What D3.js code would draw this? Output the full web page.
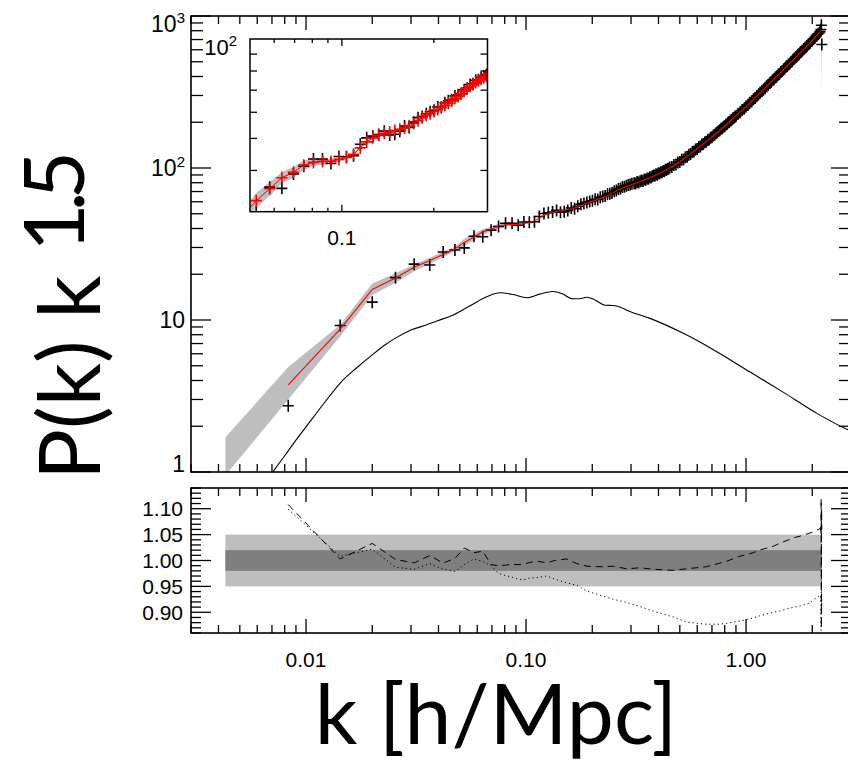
<!DOCTYPE html>
<html><head><meta charset="utf-8">
<script src="https://cdn.jsdelivr.net/npm/d3@7"></script>
<style>
html,body{margin:0;padding:0;background:#fff;overflow:hidden}
svg{display:block}
</style></head><body>
<svg id="chart" width="848" height="765"></svg>
<script>
// Binned measurements: k [h/Mpc] and P(k) k^1.5
const binK = [
  0.0083, 0.0143, 0.0200, 0.0255, 0.0310, 0.0365, 0.0420, 0.0475, 0.0524, 0.0580,
  0.0636, 0.0694, 0.0750, 0.0807, 0.0864, 0.0921, 0.0978, 0.1035, 0.1092, 0.1149,
  0.1206, 0.1263, 0.1320, 0.1377, 0.1434, 0.1491, 0.1548, 0.1605, 0.1662, 0.1719,
  0.1776, 0.1833, 0.1890, 0.1947, 0.2004, 0.2061, 0.2118, 0.2175, 0.2232, 0.2289,
  0.2346, 0.2403, 0.2460, 0.2517, 0.2574, 0.2631, 0.2688, 0.2745, 0.2802, 0.2859,
  0.2916, 0.2973, 0.3030,
  0.310, 0.315, 0.320, 0.325, 0.330, 0.335, 0.340, 0.345, 0.350, 0.355,
  0.360, 0.365, 0.370, 0.375, 0.380, 0.385, 0.390, 0.395, 0.400, 0.405,
  0.410, 0.415, 0.420, 0.425, 0.430, 0.435, 0.440, 0.445, 0.450,
  0.46, 0.47, 0.48, 0.49, 0.50, 0.51, 0.52, 0.53, 0.54, 0.55,
  0.56, 0.57, 0.58, 0.59, 0.60, 0.61, 0.62, 0.63, 0.64, 0.65,
  0.66, 0.67, 0.68, 0.69, 0.70, 0.71, 0.72, 0.73, 0.74, 0.75,
  0.76, 0.77, 0.78, 0.79, 0.80, 0.81, 0.82, 0.83, 0.84, 0.85,
  0.86, 0.87, 0.88, 0.89, 0.90,
  0.92, 0.94, 0.96, 0.98, 1.00, 1.02, 1.04, 1.06, 1.08, 1.10,
  1.12, 1.14, 1.16, 1.18, 1.20, 1.22, 1.24, 1.26, 1.28, 1.30,
  1.32, 1.34, 1.36, 1.38, 1.40, 1.42, 1.44, 1.46, 1.48, 1.50,
  1.52, 1.54, 1.56, 1.58, 1.60, 1.62, 1.64, 1.66, 1.68, 1.70,
  1.72, 1.74, 1.76, 1.78, 1.80,
  1.83, 1.86, 1.89, 1.92, 1.95, 1.98, 2.00, 2.03, 2.06, 2.09,
  2.12, 2.15, 2.17, 2.19, 2.20, 2.21
];
const pkMeasured = [
  2.73, 9.2, 13.1, 19.0, 23.3, 23.0, 28.0, 28.9, 29.8, 35.6,
  35.3, 39.0, 41.2, 43.3, 43.3, 42.0, 44.1, 44.0, 44.3, 48.0,
  50.2, 50.8, 51.4, 52.6, 51.2, 51.5, 52.6, 54.5, 54.0, 56.0,
  57.8, 58.3, 59.4, 60.2, 60.8, 62.3, 62.0, 64.1, 65.0, 65.4,
  67.2, 67.8, 68.4, 70.2, 71.0, 72.8, 73.2, 75.0, 75.3, 76.4,
  77.3, 78.0, 78.9,
  79.3, 79.0, 80.9, 80.4, 81.9, 82.6, 82.2, 84.1, 83.6, 85.4,
  85.1, 87.0, 86.5, 88.3, 89.2, 88.9, 90.9, 90.3, 92.2, 91.9,
  93.9, 93.6, 95.6, 95.2, 97.3, 97.0, 99.0, 98.7, 100.8,
  101.5, 104.8, 105.4, 108.8, 109.4, 113.1, 113.9, 117.6, 118.5, 122.3,
  123.4, 127.3, 128.4, 132.3, 133.4, 137.3, 138.5, 142.5, 143.6, 147.6,
  148.8, 152.8, 154.1, 158.1, 159.4, 163.6, 165.3, 169.6, 171.0, 175.4,
  176.9, 181.2, 182.8, 187.1, 188.4, 192.8, 194.5, 198.9, 200.6, 205.1,
  206.8, 211.3, 213.0, 217.6, 219.4,
  227.3, 232.4, 240.4, 245.6, 253.9, 259.5, 268.2, 274.0, 283.0, 288.8,
  298.1, 304.0, 313.3, 319.3, 329.0, 335.1, 345.0, 351.1, 361.3, 367.5,
  377.7, 384.0, 394.3, 400.6, 411.2, 417.5, 428.3, 434.5, 445.4, 451.7,
  462.9, 469.2, 480.5, 486.8, 498.5, 504.8, 516.7, 523.1, 535.2, 541.5,
  553.9, 560.2, 572.7, 579.1, 591.8,
  603.2, 621.3, 632.8, 651.3, 662.9, 681.7, 691.5, 705.0, 725.4, 738.6,
  759.5, 772.8, 789.0, 815.0, 870.0, 650.0
];

// Best-fit model (red)
const modelK = [
  0.0083, 0.0143, 0.0200, 0.0255, 0.0310, 0.0365, 0.0420, 0.0475, 0.0524, 0.0580,
  0.0636, 0.0694, 0.0750, 0.0807, 0.0864, 0.0921, 0.0978, 0.1035, 0.1092, 0.1149,
  0.1206, 0.1263, 0.1320, 0.1377, 0.1434, 0.1491, 0.1548, 0.1605, 0.1662, 0.1719,
  0.1776, 0.1833, 0.1890, 0.1947, 0.2004, 0.2061, 0.2118, 0.2175, 0.2232, 0.2289,
  0.2346, 0.2403, 0.2460, 0.2517, 0.2574, 0.2631, 0.2688, 0.2745, 0.2802, 0.2859,
  0.2916, 0.2973, 0.3030,
  0.35, 0.40, 0.45, 0.50, 0.55, 0.60, 0.65, 0.70, 0.80, 0.90,
  1.00, 1.20, 1.40, 1.60, 1.80, 2.00, 2.21
];
const pkModel = [
  3.74, 8.7, 15.9, 18.9, 22.2, 24.6, 27.0, 29.3, 32.4, 35.2,
  38.0, 39.5, 41.5, 42.3, 42.6, 42.6, 43.2, 43.8, 44.8, 46.8,
  48.8, 50.2, 51.1, 51.8, 52.3, 52.8, 53.3, 53.8, 54.6, 55.5,
  56.6, 57.8, 58.7, 59.4, 60.3, 61.2, 62.1, 63.0, 63.9, 64.9,
  66.0, 67.0, 68.1, 69.5, 70.7, 71.8, 72.8, 73.8, 74.7, 75.5,
  76.3, 77.0, 77.8,
  84.0, 91.5, 100.0, 110.0, 121.5, 134.0, 146.8, 160.0, 189.0, 220.0,
  253.0, 328.0, 410.0, 497.0, 590.0, 690.0, 810.0
];

// Model uncertainty envelope
const bandK = [0.0043, 0.0083, 0.0143, 0.0200, 0.0255, 0.0310, 0.0365, 0.0420, 0.0475, 0.0524,
  0.0580, 0.0636, 0.0694, 0.0750, 0.0807, 0.0864, 0.0921, 0.0978, 0.1035, 0.1092,
  0.12, 0.15, 0.2, 0.3, 0.5, 1.0, 2.0, 2.19, 2.20, 2.205, 2.21];
const bandLo = [0.95, 3.0, 7.8, 14.6, 17.6, 20.9, 23.4, 26.0, 28.3, 30.8,
  33.5, 36.5, 38.0, 40.2, 41.2, 41.7, 41.9, 42.6, 43.3, 44.4,
  48.5, 52.6, 59.9, 77.3, 109.5, 252, 688, 790, 310, 795, 805];
const bandHi = [1.69, 4.9, 9.3, 17.4, 20.3, 23.2, 25.7, 28.1, 30.3, 34.2,
  36.9, 39.6, 41.0, 42.9, 43.4, 43.5, 43.3, 43.8, 44.3, 45.2,
  49.1, 53.2, 60.6, 78.3, 110.5, 254, 692, 796, 850, 805, 815];

// Linear-theory spectrum (thin black)
const linK = [0.0068, 0.0080, 0.0090, 0.0100, 0.0120, 0.0143, 0.0170, 0.0200, 0.0230, 0.0255,
  0.0300, 0.0354, 0.0393, 0.0468, 0.0557, 0.0662, 0.0762, 0.0874, 0.1008, 0.1155,
  0.1320, 0.1460, 0.1620, 0.1750, 0.1890, 0.2050, 0.2290, 0.2490, 0.2700, 0.2870,
  0.3660, 0.5190, 0.7360, 1.0400, 1.4800, 2.1000, 2.8700, 3.2000];
const pkLinear = [0.93, 1.28, 1.62, 1.98, 2.8, 3.85, 4.85, 5.9, 6.9, 7.6,
  8.6, 9.3, 9.85, 10.8, 12.4, 14.2, 15.1, 14.7, 14.0, 14.8,
  15.4, 14.9, 13.8, 13.8, 14.1, 13.6, 12.5, 12.45, 12.1, 11.6,
  10.25, 8.17, 6.19, 4.56, 3.34, 2.43, 1.91, 1.78];

// Ratio panel
const ratioK = [0.0083, 0.0143, 0.0200, 0.0255, 0.0310, 0.0365, 0.0420, 0.0475, 0.0524, 0.0580,
  0.0636, 0.0694, 0.0750, 0.0807, 0.0864, 0.0921, 0.0978, 0.1035, 0.112, 0.124,
  0.135, 0.153, 0.170, 0.189, 0.217, 0.250, 0.287, 0.330, 0.380, 0.467,
  0.536, 0.660, 0.760, 0.820, 0.935, 1.08, 1.15, 1.33, 1.42, 1.65,
  1.76, 1.95, 2.00, 2.14, 2.18, 2.19, 2.195, 2.20, 2.205, 2.21];
const ratioDashed = [1.108, 1.003, 1.033, 1.002, 0.9955, 1.0096, 0.995, 1.004, 1.024, 1.015,
  1.018, 0.992, 0.990, 0.991, 0.993, 0.992, 0.993, 0.996, 0.999, 0.9955,
  1.000, 1.003, 0.994, 0.989, 0.988, 0.989, 0.984, 0.986, 0.983, 0.981,
  0.984, 0.988, 0.995, 0.999, 1.008, 1.015, 1.020, 1.0275, 1.033, 1.044,
  1.047, 1.053, 1.055, 1.060, 1.063, 1.050, 1.12, 0.87, 1.10, 1.06];
const ratioDotted = [1.099, 1.008, 1.022, 0.987, 0.983, 0.994, 0.983, 0.979, 0.992, 1.003,
  0.998, 0.990, 0.975, 0.971, 0.968, 0.964, 0.963, 0.966, 0.967, 0.970,
  0.964, 0.957, 0.952, 0.941, 0.933, 0.925, 0.919, 0.911, 0.902, 0.891,
  0.881, 0.877, 0.877, 0.879, 0.883, 0.889, 0.893, 0.900, 0.9025, 0.910,
  0.912, 0.918, 0.922, 0.931, 0.933, 0.925, 0.865, 1.09, 0.90, 0.93];
const ratioBandK = [0.0043, 2.2];
const outerBand = [0.95, 1.05];
const innerBand = [0.98, 1.02];

// Tick values and labels
const kMajor = [0.01, 0.1, 1];
const kMajorLabels = ["0.01", "0.10", "1.00"];
const pMajor = [1, 10, 100, 1000];
const pMajorLabels = [["1", ""], ["10", ""], ["10", "2"], ["10", "3"]];
const ratioMajor = [0.90, 0.95, 1.00, 1.05, 1.10];
const ratioMajorLabels = ["0.90", "0.95", "1.00", "1.05", "1.10"];
const insetKMajor = [0.1];
const insetKMajorLabels = ["0.1"];
const insetKMinor = [0.06, 0.07, 0.08, 0.09, 0.2];
const insetPTicks = [40, 50, 60, 70, 80, 90];
const insetPLabel = ["10", "2"];

// ---------------------------------------------------------------
const svg = d3.select("#chart");
const M = {left: 191, right: 851, top: 16, bottom: 472};
const R = {top: 488, bottom: 633};
const I = {left: 250, right: 487.5, top: 39, bottom: 211.7};

const x = d3.scaleLog().domain([0.003, 3]).range([M.left, M.right]);
const y = d3.scaleLog().domain([1, 1000]).range([M.bottom, M.top]);
const yr = d3.scaleLinear().domain([0.86, 1.14]).range([R.bottom, R.top]);
const xi = d3.scaleLog().domain([0.05, 0.3]).range([I.left, I.right]);
const yi = d3.scaleLog().domain([30, 100]).range([I.bottom, I.top]);

const LABEL_FONT = "'Liberation Sans', Arial, Helvetica, sans-serif";
const TITLE_FONT = "Lato, 'Open Sans', sans-serif";

const defs = svg.append("defs");
function clip(id, x0, y0, x1, y1) {
  defs.append("clipPath").attr("id", id).append("rect")
    .attr("x", x0).attr("y", y0).attr("width", x1 - x0).attr("height", y1 - y0);
}
clip("clipMain", M.left, M.top, M.right, M.bottom);
clip("clipRatio", M.left, R.top, M.right, R.bottom);
clip("clipInset", I.left, I.top, I.right, I.bottom);

const zip = (a, b) => a.map((v, i) => [v, b[i]]);
const measured = zip(binK, pkMeasured);
const model = zip(modelK, pkModel);
const band = bandK.map((k, i) => ({k, lo: bandLo[i], hi: bandHi[i]}));
const linear = zip(linK, pkLinear);
const crossPath = "M-5.5,0H5.5M0,-6V6";

// ---------- main panel ----------
const gMain = svg.append("g").attr("clip-path", "url(#clipMain)");
gMain.append("path").datum(band)
  .attr("d", d3.area().x(d => x(d.k)).y0(d => y(d.lo)).y1(d => y(d.hi)))
  .attr("fill", "#bebebe");
gMain.append("path").datum(linear)
  .attr("d", d3.line().x(d => x(d[0])).y(d => y(d[1])).curve(d3.curveMonotoneX))
  .attr("fill", "none").attr("stroke", "#000").attr("stroke-width", 1.1);
gMain.append("g").selectAll("path").data(measured).join("path")
  .attr("transform", d => `translate(${x(d[0])},${y(d[1])})`)
  .attr("d", crossPath).attr("stroke", "#000").attr("stroke-width", 1.6).attr("fill", "none");
gMain.append("path").datum(model)
  .attr("d", d3.line().x(d => x(d[0])).y(d => y(d[1])))
  .attr("fill", "none").attr("stroke", "#ff0000").attr("stroke-width", 1.1);

// ---------- ratio panel ----------
const gRatio = svg.append("g").attr("clip-path", "url(#clipRatio)");
gRatio.append("rect")
  .attr("x", x(ratioBandK[0])).attr("width", x(ratioBandK[1]) - x(ratioBandK[0]))
  .attr("y", yr(outerBand[1])).attr("height", yr(outerBand[0]) - yr(outerBand[1]))
  .attr("fill", "#bebebe");
gRatio.append("rect")
  .attr("x", x(ratioBandK[0])).attr("width", x(ratioBandK[1]) - x(ratioBandK[0]))
  .attr("y", yr(innerBand[1])).attr("height", yr(innerBand[0]) - yr(innerBand[1]))
  .attr("fill", "#7f7f7f");
const rLine = d3.line().x(d => x(d[0])).y(d => yr(d[1]));
gRatio.append("path").datum(zip(ratioK, ratioDashed)).attr("d", rLine)
  .attr("fill", "none").attr("stroke", "#000").attr("stroke-width", 1)
  .attr("stroke-dasharray", "7,5");
gRatio.append("path").datum(zip(ratioK, ratioDotted)).attr("d", rLine)
  .attr("fill", "none").attr("stroke", "#000").attr("stroke-width", 1)
  .attr("stroke-dasharray", "1.2,3");

// ---------- tick helpers ----------
function vTicks(g, vals, sx, y0, dir, len) {
  g.append("g").selectAll("line").data(vals).join("line")
    .attr("x1", d => sx(d)).attr("x2", d => sx(d))
    .attr("y1", y0).attr("y2", y0 + dir * len)
    .attr("stroke", "#000").attr("stroke-width", 1.3);
}
function hTicks(g, vals, sy, x0, dir, len) {
  g.append("g").selectAll("line").data(vals).join("line")
    .attr("y1", d => sy(d)).attr("y2", d => sy(d))
    .attr("x1", x0).attr("x2", x0 + dir * len)
    .attr("stroke", "#000").attr("stroke-width", 1.3);
}
const isMajor = (v, list) => list.some(m => Math.abs(v - m) < 1e-9 * Math.max(1, m));

const gAx = svg.append("g");
const kMinor = x.ticks().filter(v => !isMajor(v, kMajor));
const pMinor = y.ticks().filter(v => !isMajor(v, pMajor));
const ratioMinor = d3.range(86, 115).map(v => v / 100).filter(v => !ratioMajor.some(m => Math.abs(m - v) < 1e-6));

// main frame + ticks
gAx.append("rect").attr("x", M.left).attr("y", M.top)
  .attr("width", M.right - M.left).attr("height", M.bottom - M.top)
  .attr("fill", "none").attr("stroke", "#000").attr("stroke-width", 1.6);
vTicks(gAx, kMinor, x, M.top, 1, 8);
vTicks(gAx, kMajor, x, M.top, 1, 14);
vTicks(gAx, kMinor, x, M.bottom, -1, 8);
vTicks(gAx, kMajor, x, M.bottom, -1, 14);
hTicks(gAx, pMinor, y, M.left, 1, 12);
hTicks(gAx, pMajor, y, M.left, 1, 20);
hTicks(gAx, pMinor, y, M.right, -1, 12);
hTicks(gAx, pMajor, y, M.right, -1, 20);

// ratio frame + ticks
gAx.append("rect").attr("x", M.left).attr("y", R.top)
  .attr("width", M.right - M.left).attr("height", R.bottom - R.top)
  .attr("fill", "none").attr("stroke", "#000").attr("stroke-width", 1.6);
vTicks(gAx, kMinor, x, R.top, 1, 8);
vTicks(gAx, kMajor, x, R.top, 1, 14);
vTicks(gAx, kMinor, x, R.bottom, -1, 8);
vTicks(gAx, kMajor, x, R.bottom, -1, 14);
hTicks(gAx, ratioMinor, yr, M.left, 1, 10);
hTicks(gAx, ratioMajor, yr, M.left, 1, 20);
hTicks(gAx, ratioMinor, yr, M.right, -1, 10);
hTicks(gAx, ratioMajor, yr, M.right, -1, 20);

// main y labels
const pLab = gAx.append("g").attr("font-family", LABEL_FONT).attr("font-size", 23)
  .attr("text-anchor", "end");
pMajor.forEach((v, i) => {
  const base = Math.min(M.bottom, Math.max(M.top + 16, y(v) + 8));
  const t = pLab.append("text").attr("x", 185).attr("y", base);
  t.append("tspan").text(pMajorLabels[i][0]);
  if (pMajorLabels[i][1]) t.append("tspan").attr("dy", -9).attr("font-size", 15).text(pMajorLabels[i][1]);
});
// ratio y labels
gAx.append("g").attr("font-family", LABEL_FONT).attr("font-size", 21).attr("text-anchor", "end")
  .selectAll("text").data(ratioMajor).join("text")
  .attr("x", 183).attr("y", d => yr(d) + 7.5)
  .text((d, i) => ratioMajorLabels[i]);
// k labels
gAx.append("g").attr("font-family", LABEL_FONT).attr("font-size", 21).attr("text-anchor", "middle")
  .selectAll("text").data(kMajor).join("text")
  .attr("x", d => x(d)).attr("y", 667)
  .text((d, i) => kMajorLabels[i]);

// ---------- inset ----------
const gIn = svg.append("g");
gIn.append("rect").attr("x", I.left).attr("y", I.top)
  .attr("width", I.right - I.left).attr("height", I.bottom - I.top).attr("fill", "#fff");
const gInC = gIn.append("g").attr("clip-path", "url(#clipInset)");
gInC.append("path").datum(band)
  .attr("d", d3.area().x(d => xi(d.k)).y0(d => yi(d.lo)).y1(d => yi(d.hi)))
  .attr("fill", "#bebebe");
gInC.append("g").selectAll("path").data(measured).join("path")
  .attr("transform", d => `translate(${xi(d[0])},${yi(d[1])})`)
  .attr("d", crossPath).attr("stroke", "#000").attr("stroke-width", 1.6).attr("fill", "none");
gInC.append("path").datum(model)
  .attr("d", d3.line().x(d => xi(d[0])).y(d => yi(d[1])))
  .attr("fill", "none").attr("stroke", "#ff0000").attr("stroke-width", 1);
gInC.append("g").selectAll("path").data(model).join("path")
  .attr("transform", d => `translate(${xi(d[0])},${yi(d[1])})`)
  .attr("d", crossPath).attr("stroke", "#ff0000").attr("stroke-width", 1.6).attr("fill", "none");
gIn.append("rect").attr("x", I.left).attr("y", I.top)
  .attr("width", I.right - I.left).attr("height", I.bottom - I.top)
  .attr("fill", "none").attr("stroke", "#000").attr("stroke-width", 1.5);
vTicks(gIn, insetKMinor, xi, I.top, 1, 4);
vTicks(gIn, insetKMajor, xi, I.top, 1, 7);
vTicks(gIn, insetKMinor, xi, I.bottom, -1, 4);
vTicks(gIn, insetKMajor, xi, I.bottom, -1, 7);
hTicks(gIn, insetPTicks, yi, I.left, 1, 7);
hTicks(gIn, insetPTicks, yi, I.right, -1, 7);
const inLab = gIn.append("text").attr("font-family", LABEL_FONT).attr("font-size", 22)
  .attr("text-anchor", "end").attr("x", 237).attr("y", I.top + 16);
inLab.append("tspan").text(insetPLabel[0]);
inLab.append("tspan").attr("dy", -9).attr("font-size", 15).text(insetPLabel[1]);
gIn.append("g").attr("font-family", LABEL_FONT).attr("font-size", 21).attr("text-anchor", "middle")
  .selectAll("text").data(insetKMajor).join("text")
  .attr("x", d => xi(d)).attr("y", 245)
  .text((d, i) => insetKMajorLabels[i]);

// ---------- axis titles ----------
svg.append("text").attr("font-family", TITLE_FONT).attr("font-size", 84)
  .attr("text-anchor", "middle").attr("x", 496).attr("y", 744)
  .text("k [h/Mpc]");
svg.append("text").attr("font-family", TITLE_FONT).attr("font-size", 85)
  .attr("transform", "translate(100,480) rotate(-90)")
  .text("P(k) k");
svg.append("text").attr("font-family", TITLE_FONT).attr("font-size", 84)
  .attr("letter-spacing", -8)
  .attr("transform", "translate(84,252) rotate(-90)")
  .text("1.5");
</script>
</body></html>
